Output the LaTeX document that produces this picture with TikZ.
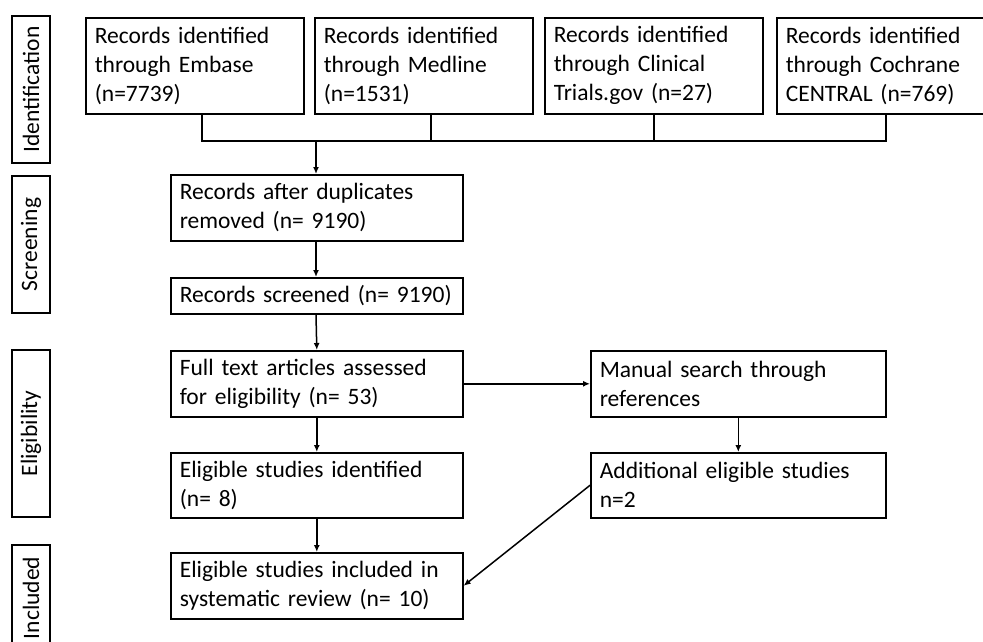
\documentclass[tikz,border=0pt]{standalone}
\usepackage{fontspec}
\setmainfont{Carlito}
\usepackage{tikz}
\usetikzlibrary{arrows.meta,calc}

\begin{document}
\begin{tikzpicture}[x=1pt,y=1pt,>={Latex[length=7pt,width=6pt]},
    box/.style={draw, line width=1.6pt, anchor=north west, align=left,
                inner xsep=9pt, inner ysep=0pt,
                font=\fontsize{23.5}{29}\selectfont},
    phase/.style={draw, line width=1.6pt, rotate=90, inner sep=0pt,
                  minimum height=38pt, font=\fontsize{23.5}{29}\selectfont},
    wire/.style={line width=1.5pt},
    link/.style={->, line width=1.5pt}]

  \useasboundingbox (0,0) rectangle (983,-642);

  % ── phase labels down the left side ─────────────────────────────────
  \node[phase, minimum width=147pt] (identification) at (31,-89.5)  {Identification};
  \node[phase, minimum width=137pt] (screening)      at (31,-244.5) {Screening};
  \node[phase, minimum width=167pt] (eligibility)    at (31,-433.5) {Eligibility};
  \node[phase, minimum width=106pt] (inclusion)      at (31,-598)   {Included};

  % ── database searches ───────────────────────────────────────────────
  \node[box, text width=200pt, minimum height=96pt] (embase)   at (85,-17)
        {Records identified\\through Embase\\(n=7739)};
  \node[box, text width=200pt, minimum height=96pt] (medline)  at (314,-17)
        {Records identified\\through Medline\\(n=1531)};
  \node[box, text width=200pt, minimum height=96pt] (clinical) at (544,-17)
        {Records identified\\through Clinical\\Trials.gov (n=27)};
  \node[box, text width=200pt, minimum height=96pt] (cochrane) at (776,-17)
        {Records identified\\through Cochrane\\CENTRAL (n=769)};

  % ── main column ─────────────────────────────────────────────────────
  \node[box, text width=274pt, minimum height=66pt] (dupl)     at (170,-174)
        {Records after duplicates\\removed (n= 9190)};
  \node[box, text width=274pt, minimum height=36pt] (screened) at (170,-277)
        {Records screened (n= 9190)};
  \node[box, text width=274pt, minimum height=66pt] (fulltext) at (170,-350)
        {Full text articles assessed\\for eligibility (n= 53)};
  \node[box, text width=274pt, minimum height=65pt] (eligible) at (170,-452)
        {Eligible studies identified\\(n= 8)};
  \node[box, text width=274pt, minimum height=66pt] (included) at (170,-552)
        {Eligible studies included in\\systematic review (n= 10)};

  % ── side branch ─────────────────────────────────────────────────────
  \node[box, text width=277pt, minimum height=66pt] (manual)     at (590,-350)
        {Manual search through\\references};
  \node[box, text width=277pt, minimum height=65pt] (additional) at (590,-452)
        {Additional eligible studies\\n=2};

  % ── merging the four searches ───────────────────────────────────────
  \coordinate (merge) at (316,-141);
  \draw[wire] ([xshift=7pt]embase.south) |- (cochrane.south |- merge) -- (cochrane.south);
  \draw[wire] ([xshift=7pt]medline.south) -- ([xshift=7pt]medline.south |- merge);
  \draw[wire] (clinical.south) -- (clinical.south |- merge);
  \draw[link] (merge) -- (merge |- dupl.north);

  % ── flow ────────────────────────────────────────────────────────────
  \draw[link] (dupl.south -| merge) -- (merge |- screened.north);
  \draw[link] (screened.south -| merge) -- (fulltext.north);
  \draw[link] (fulltext.south) -- (eligible.north);
  \draw[link] (eligible.south) -- (included.north);
  \draw[link] (fulltext.east) -- (manual.west);
  \draw[link] (manual.south) -- (additional.north);
  \draw[link] (additional.west) -- (included.east);

\end{tikzpicture}
\end{document}
